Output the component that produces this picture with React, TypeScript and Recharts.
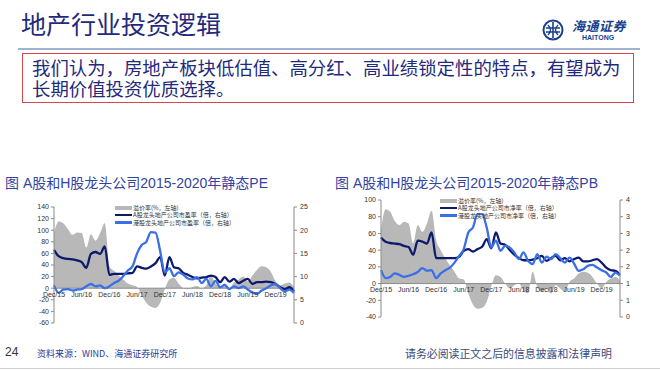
import { ComposedChart, Area, Line, XAxis, YAxis, ReferenceLine, Legend } from 'recharts';

// monthly categories, Dec/15 .. Apr/20
const monthNames = ['Jan', 'Feb', 'Mar', 'Apr', 'May', 'Jun', 'Jul', 'Aug', 'Sep', 'Oct', 'Nov', 'Dec'];
const months: string[] = [];
for (let i = 0; i < 53; i++) {
  const k = 11 + i;
  months.push(`${monthNames[k % 12]}/${15 + Math.floor(k / 12)}`);
}

// PE chart
const pePremium = [95, 115, 112, 102, 92, 96, 95, 70, 93, 82, 95, 112, 38, 30, 22, 15, 8, 5, 2, -12, -25, -32, -34, -25, -2, 15, 18, 8, 0, -2, 2, 4, 0, 5, 22, 8, 2, 8, 0, 10, 15, 20, 12, 22, 32, 38, 36, 28, 12, 5, 8, 10, 2];
const peA = [15.75, 14.4, 14.0, 13.8, 13.7, 13.5, 13.1, 11.9, 14.9, 15.3, 14.9, 16.5, 10.4, 10.6, 10.6, 10.6, 10.7, 10.8, 12.2, 11.9, 11.7, 12.2, 12.9, 14.2, 10.2, 14.2, 12.0, 11.8, 10.8, 10.4, 9.9, 9.6, 9.8, 9.9, 10.2, 9.9, 8.8, 9.9, 8.9, 9.5, 8.6, 9.1, 9.5, 8.4, 8.8, 8.8, 8.9, 8.8, 8.4, 7.7, 7.3, 7.7, 6.8];
const peH = [8.1, 6.5, 7.2, 7.3, 7.0, 7.2, 7.3, 7.9, 8.4, 7.9, 8.1, 7.5, 7.9, 8.6, 9.1, 10.1, 11.3, 12.2, 15.0, 16.8, 17.5, 19.6, 19.5, 15.5, 10.9, 11.8, 10.1, 10.9, 10.4, 9.6, 9.4, 9.9, 8.6, 9.5, 7.9, 9.1, 7.7, 8.2, 7.3, 7.9, 7.5, 7.9, 7.2, 6.6, 6.3, 7.0, 7.5, 8.1, 8.4, 7.5, 6.8, 7.2, 6.5];

// PB chart
const pbPremium = [65, 89, 86, 75, 70, 74, 72, 48, 70, 62, 72, 87, 52, 40, 30, 22, 14, 6, 5, -12, -25, -30, -29, -22, -3, 10, 8, 0, -6, -2, 0, -8, -12, 14, -4, -10, -6, -12, -2, -6, -10, 2, 6, 12, 14, 13, 8, 0, -6, 2, 6, 8, 4];
const pbA = [2.72, 2.57, 2.53, 2.51, 2.49, 2.43, 2.39, 2.13, 2.61, 2.58, 2.51, 2.89, 2.01, 2.01, 2.01, 2.01, 2.01, 2.06, 2.26, 2.32, 2.24, 2.32, 2.40, 2.66, 2.35, 2.89, 2.51, 2.47, 2.29, 2.13, 2.01, 1.94, 1.94, 1.96, 2.01, 2.09, 1.92, 2.01, 2.09, 1.94, 2.01, 1.90, 1.98, 2.03, 1.90, 1.90, 1.94, 1.98, 1.86, 1.69, 1.60, 1.58, 1.44];
const pbH = [1.60, 1.33, 1.37, 1.49, 1.44, 1.37, 1.41, 1.46, 1.54, 1.67, 1.58, 1.60, 1.33, 1.49, 1.60, 1.69, 1.86, 2.09, 2.32, 2.89, 3.06, 3.52, 3.52, 3.06, 2.38, 2.61, 2.26, 2.43, 2.38, 2.21, 1.98, 2.21, 1.92, 1.81, 2.15, 1.86, 2.06, 1.98, 2.15, 2.01, 1.86, 2.03, 1.83, 1.58, 1.63, 1.75, 1.78, 1.69, 1.60, 1.52, 1.37, 1.52, 1.41];

const peLeftTicks = [-60, -40, -20, 0, 20, 40, 60, 80, 100, 120, 140];
const peRightTicks = [0, 5, 10, 15, 20, 25];
const pbLeftTicks = [-40, -20, 0, 20, 40, 60, 80, 100];
const pbRightTicks = [0, 1, 2, 3, 4, 5, 6, 7].map((i) => (i * 4) / 7);

const peLegend = ['溢价率(%，左轴)', 'A股龙头地产公司市盈率（倍，右轴）', '港股龙头地产公司市盈率（倍，右轴）'];
const pbLegend = ['溢价率(%，左轴)', 'A股龙头地产公司市净率（倍，右轴）', '港股龙头地产公司市净率（倍，右轴）'];

const NAVY = '#0d1a6b';
const BLUE = '#3a6fe8';
const GRAY = '#b8b8b8';
const AXIS = '#8a8a8a';
const LATIN = '"Liberation Sans", Arial, sans-serif';
const CJK = '"Noto Sans CJK SC", sans-serif';

type Row = { month: string; premium: number; a: number; h: number };

const buildRows = (p: number[], a: number[], h: number[]): Row[] =>
  months.map((m, i) => ({ month: m, premium: p[i], a: a[i], h: h[i] }));

interface ValuationChartProps {
  rows: Row[];
  left: number;
  top: number;
  margin: { top: number; right: number; bottom: number; left: number };
  leftDomain: [number, number];
  leftTicks: number[];
  rightDomain: [number, number];
  rightTicks: number[];
  rightFormat: (v: number) => string;
  names: string[];
  legendLeft: number;
  legendTop: number;
  labelGap: number;
}

const W = 330;
const H = 135;

const ValuationChart = ({
  rows,
  left,
  top,
  margin,
  leftDomain,
  leftTicks,
  rightDomain,
  rightTicks,
  rightFormat,
  names,
  legendLeft,
  legendTop,
  labelGap,
}: ValuationChartProps) => {
  const plotH = H - margin.top - margin.bottom - 1;
  // the category labels sit on the zero line, not at the bottom of the plot
  const zeroUp = (plotH * (0 - leftDomain[0])) / (leftDomain[1] - leftDomain[0]);
  const colors = [GRAY, NAVY, BLUE];

  const renderTick = (props: any) => {
    const { x, y, payload } = props;
    return (
      <text x={x} y={y - zeroUp + labelGap} textAnchor="middle" fontSize={7} fill="#333" fontFamily={LATIN}>
        {payload.value}
      </text>
    );
  };

  const renderLegend = () => (
    <div style={{ fontFamily: CJK, fontSize: 6, color: '#333' }}>
      {names.map((n, i) => (
        <div
          key={n}
          style={{ display: 'flex', alignItems: 'center', whiteSpace: 'nowrap', height: 7.4, lineHeight: '7.4px' }}
        >
          <span
            style={{
              display: 'inline-block',
              width: 17,
              height: i === 0 ? 4 : 2.5,
              background: colors[i],
              marginRight: 1,
            }}
          />
          {n}
        </div>
      ))}
    </div>
  );

  return (
    <div style={{ position: 'absolute', left, top, width: W, height: H }}>
      <ComposedChart width={W} height={H} data={rows} margin={margin}>
        <XAxis
          dataKey="month"
          scale="point"
          height={1}
          interval={5}
          axisLine={false}
          tickLine={false}
          tickSize={0}
          tickMargin={0}
          tick={renderTick}
        />
        <YAxis
          yAxisId="left"
          width={30}
          domain={leftDomain}
          ticks={leftTicks}
          interval={0}
          tick={{ fontSize: 7, fill: '#333', fontFamily: LATIN }}
          tickSize={3}
          tickMargin={2}
          axisLine={{ stroke: AXIS }}
          tickLine={{ stroke: AXIS }}
        />
        <YAxis
          yAxisId="right"
          orientation="right"
          width={26}
          domain={rightDomain}
          ticks={rightTicks}
          interval={0}
          tickFormatter={rightFormat}
          tick={{ fontSize: 7, fill: '#333', fontFamily: LATIN }}
          tickSize={3}
          tickMargin={3}
          axisLine={{ stroke: AXIS }}
          tickLine={{ stroke: AXIS }}
        />
        <Legend
          layout="vertical"
          align="center"
          verticalAlign="middle"
          content={renderLegend}
          wrapperStyle={{ left: legendLeft, top: legendTop, width: 'auto' }}
        />
        <Area
          yAxisId="left"
          dataKey="premium"
          name={names[0]}
          type="monotone"
          baseValue={0}
          stroke="none"
          fill={GRAY}
          fillOpacity={1}
          isAnimationActive={false}
        />
        <ReferenceLine yAxisId="left" y={0} stroke={AXIS} strokeWidth={1} />
        <Line
          yAxisId="right"
          dataKey="a"
          name={names[1]}
          type="monotone"
          stroke={NAVY}
          strokeWidth={2.3}
          dot={false}
          isAnimationActive={false}
        />
        <Line
          yAxisId="right"
          dataKey="h"
          name={names[2]}
          type="monotone"
          stroke={BLUE}
          strokeWidth={2.3}
          dot={false}
          isAnimationActive={false}
        />
      </ComposedChart>
    </div>
  );
};

const Logo = () => (
  <div style={{ position: 'absolute', left: 542, top: 18, width: 90, height: 28 }}>
    <svg width={24} height={24} style={{ position: 'absolute', left: 0, top: 1 }}>
      <circle cx={11} cy={11} r={9.5} fill="none" stroke="#1a3f8f" strokeWidth={2} />
      <path d="M11 3 V19 M4 9 H18 M4 13 H18" stroke="#1a3f8f" strokeWidth={1.6} fill="none" />
      <path d="M6 6 Q11 11 6 16 M16 6 Q11 11 16 16" stroke="#1a3f8f" strokeWidth={1.3} fill="none" />
    </svg>
    <div
      style={{
        position: 'absolute',
        left: 30,
        top: 0,
        fontFamily: CJK,
        fontSize: 13,
        fontWeight: 700,
        fontStyle: 'italic',
        color: '#1a3f8f',
        lineHeight: '15px',
        letterSpacing: 0.5,
      }}
    >
      海通证券
    </div>
    <div
      style={{
        position: 'absolute',
        left: 40,
        top: 16,
        fontFamily: LATIN,
        fontSize: 7,
        fontWeight: 700,
        color: '#1a3f8f',
        lineHeight: '8px',
      }}
    >
      HAITONG
    </div>
  </div>
);

const chartTitle = (text: string, left: number) => (
  <div
    style={{
      position: 'absolute',
      left,
      top: 175,
      fontFamily: `${LATIN.split(',')[0]}, ${CJK}`,
      fontSize: 14,
      lineHeight: '16px',
      color: '#3344a0',
      whiteSpace: 'nowrap',
    }}
  >
    {text}
  </div>
);

const boxLine = (text: string, top: number) => (
  <div
    style={{
      position: 'absolute',
      left: 32,
      top,
      fontFamily: CJK,
      fontSize: 18.4,
      lineHeight: '20px',
      height: 20,
      color: '#1f2a7c',
      whiteSpace: 'nowrap',
    }}
  >
    {text}
  </div>
);

export default function App() {
  const peRows = buildRows(pePremium, peA, peH);
  const pbRows = buildRows(pbPremium, pbA, pbH);
  return (
    <div
      style={{
        position: 'absolute',
        left: 0,
        top: 0,
        width: 660,
        height: 371,
        background: '#fff',
        overflow: 'hidden',
      }}
    >
      <div
        style={{
          position: 'absolute',
          left: 21,
          top: 9,
          fontFamily: CJK,
          fontSize: 25,
          lineHeight: '29px',
          color: '#1f2a7c',
        }}
      >
        地产行业投资逻辑
      </div>
      <Logo />
      <div style={{ position: 'absolute', left: 18, top: 48, width: 622, height: 2, background: '#9fb3d1' }} />
      <div
        style={{
          position: 'absolute',
          left: 22,
          top: 53,
          width: 612,
          height: 50,
          border: '1px solid #d9464b',
          boxSizing: 'border-box',
        }}
      />
      {boxLine('我们认为，房地产板块低估值、高分红、高业绩锁定性的特点，有望成为', 57)}
      {boxLine('长期价值投资优质选择。', 78)}

      {chartTitle('图 A股和H股龙头公司2015-2020年静态PE', 5)}
      {chartTitle('图 A股和H股龙头公司2015-2020年静态PB', 335)}

      <ValuationChart
        rows={peRows}
        left={0}
        top={195}
        margin={{ top: 12, right: 10, bottom: 6, left: 24 }}
        leftDomain={[-60, 140]}
        leftTicks={peLeftTicks}
        rightDomain={[0, 25]}
        rightTicks={peRightTicks}
        rightFormat={(v: number) => String(v)}
        names={peLegend}
        legendLeft={115}
        legendTop={9}
        labelGap={9}
      />
      <ValuationChart
        rows={pbRows}
        left={330}
        top={188}
        margin={{ top: 12, right: 14, bottom: 5, left: 21 }}
        leftDomain={[-40, 100]}
        leftTicks={pbLeftTicks}
        rightDomain={[0, 4]}
        rightTicks={pbRightTicks}
        rightFormat={(v: number) => String(Math.round(v))}
        names={pbLegend}
        legendLeft={110}
        legendTop={9}
        labelGap={8}
      />

      <div
        style={{
          position: 'absolute',
          left: 5,
          top: 345,
          fontFamily: LATIN,
          fontSize: 12,
          lineHeight: '14px',
          color: '#333',
        }}
      >
        24
      </div>
      <div
        style={{
          position: 'absolute',
          left: 37,
          top: 348,
          fontFamily: CJK,
          fontSize: 9,
          lineHeight: '12px',
          color: '#2a3a9a',
          whiteSpace: 'nowrap',
        }}
      >
        资料来源：WIND、海通证券研究所
      </div>
      <div
        style={{
          position: 'absolute',
          left: 405,
          top: 346,
          fontFamily: CJK,
          fontSize: 10.9,
          lineHeight: '14px',
          color: '#3a4a7a',
          whiteSpace: 'nowrap',
        }}
      >
        请务必阅读正文之后的信息披露和法律声明
      </div>
      <div style={{ position: 'absolute', left: 0, top: 368, width: 660, height: 1, background: '#d0d0d0' }} />
    </div>
  );
}
